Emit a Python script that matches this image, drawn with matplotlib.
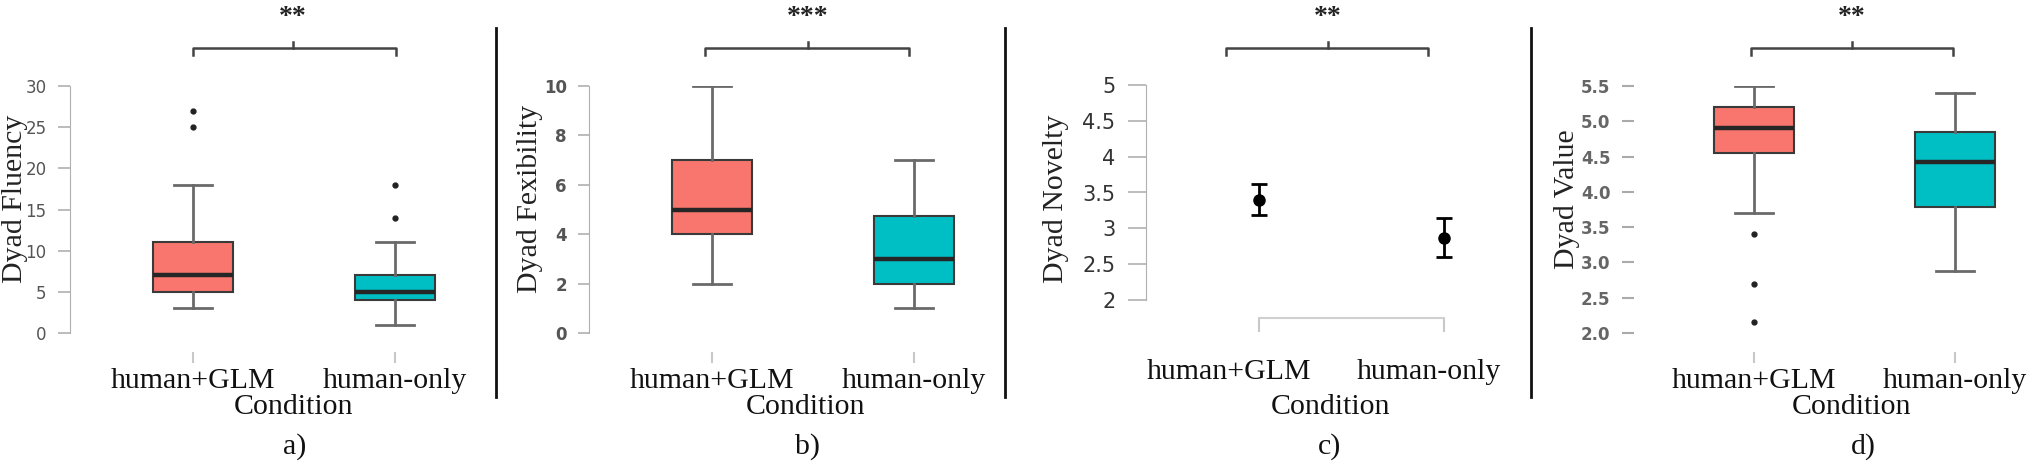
import matplotlib.pyplot as plt
from matplotlib.lines import Line2D

W, H, DPI = 2030, 469, 100

categories = ["human+GLM", "human-only"]

# box stats: whisker low, q1, median, q3, whisker high
fluency_glm = [3, 5, 7, 11, 18]
fluency_glm_out = [25, 27]
fluency_human = [1, 4, 5, 7, 11]
fluency_human_out = [14, 18]

flex_glm = [2, 4, 5, 7, 10]
flex_human = [1, 2, 3, 4.75, 7]

novelty_mean = [3.40, 2.87]
novelty_lo = [3.18, 2.60]
novelty_hi = [3.62, 3.15]

value_glm = [3.7, 4.55, 4.9, 5.2, 5.5]
value_glm_out = [3.4, 2.7, 2.15]
value_human = [2.88, 3.78, 4.43, 4.85, 5.4]
value_human_out = []

stars = ["**", "***", "**", "**"]
panel_tags = ["a)", "b)", "c)", "d)"]
ylabels = ["Dyad Fluency", "Dyad Fexibility", "Dyad Novelty", "Dyad Value"]

RED, TEAL = "#F8766D", "#00BFC4"
SERIF = "Liberation Serif"

fig = plt.figure(figsize=(W / DPI, H / DPI), dpi=DPI)


def make_axes(left, c1, c2, top, bottom, ylim):
    s = c2 - c1
    right = c2 + 75
    ax = fig.add_axes([left / W, 1 - bottom / H, (right - left) / W, (bottom - top) / H])
    ax.set_xlim(1 - (c1 - left) / s, 2 + (right - c2) / s)
    ax.set_ylim(*ylim)
    ax.patch.set_alpha(0)
    for sp in ["top", "right"]:
        ax.spines[sp].set_visible(False)
    return ax


def stats(vals, out):
    lo, q1, med, q3, hi = vals
    return dict(whislo=lo, q1=q1, med=med, q3=q3, whishi=hi, fliers=out)


def draw_boxes(ax, s1, s2):
    bp = ax.bxp([s1, s2], positions=[1, 2], widths=0.4, capwidths=0.19,
                patch_artist=True, showfliers=True,
                boxprops=dict(edgecolor="#3a3a3a", linewidth=1.5),
                medianprops=dict(color="#262626", linewidth=3.2),
                whiskerprops=dict(color="#6a6a6a", linewidth=2),
                capprops=dict(color="#6a6a6a", linewidth=2),
                flierprops=dict(marker="o", markersize=3.5, markerfacecolor="#222",
                                markeredgecolor="#222"))
    for patch, col in zip(bp["boxes"], [RED, TEAL]):
        patch.set_facecolor(col)


def style_x(ax, outward, length, pad, labels=True):
    ax.spines["bottom"].set_position(("outward", outward))
    ax.set_xticks([1, 2])
    if labels:
        ax.set_xticklabels(categories, fontfamily=SERIF, fontsize=21.5)
    else:
        ax.set_xticklabels(["", ""])
    ax.tick_params(axis="x", length=length, width=1.5, color="#c8c8c8", pad=pad,
                   labelcolor="#111")


# a) fluency
ax = make_axes(70, 193, 395, 86, 333, (0, 30))
draw_boxes(ax, stats(fluency_glm, fluency_glm_out), stats(fluency_human, fluency_human_out))
ax.set_yticks([0, 5, 10, 15, 20, 25, 30])
ax.spines["left"].set_bounds(0, 30)
ax.spines["left"].set_color("#b0b0b0")
ax.spines["bottom"].set_visible(False)
ax.tick_params(axis="y", length=9, width=1.2, color="#b0b0b0", pad=8,
               labelsize=12, labelcolor="#555")
style_x(ax, 14, 8, 3)

# b) flexibility
ax = make_axes(589, 712, 914, 86, 333, (0, 10))
draw_boxes(ax, stats(flex_glm, []), stats(flex_human, []))
ax.set_yticks([0, 2, 4, 6, 8, 10])
ax.spines["left"].set_bounds(0, 10)
ax.spines["left"].set_color("#b0b0b0")
ax.spines["bottom"].set_visible(False)
ax.tick_params(axis="y", length=8, width=1.2, color="#b0b0b0", pad=8,
               labelsize=12, labelcolor="#555")
for lab in ax.get_yticklabels():
    lab.set_fontweight("bold")
style_x(ax, 14, 8, 3)

# c) novelty
ax = make_axes(1146, 1259, 1444, 85, 300, (2, 5))
ax.errorbar([1, 2], novelty_mean,
            yerr=[[m - lo for m, lo in zip(novelty_mean, novelty_lo)],
                  [hi - m for m, hi in zip(novelty_mean, novelty_hi)]],
            fmt="o", color="black", markersize=8, elinewidth=2, capsize=6, capthick=2)
ax.set_yticks([2, 2.5, 3, 3.5, 4, 4.5, 5])
ax.set_yticklabels(["2", "2.5", "3", "3.5", "4", "4.5", "5"])
ax.spines["left"].set_bounds(2, 5)
ax.spines["left"].set_color("#b0b0b0")
ax.spines["bottom"].set_bounds(1, 2)
ax.spines["bottom"].set_color("#d0d0d0")
ax.spines["bottom"].set_linewidth(1.5)
ax.tick_params(axis="y", length=13, width=1.2, color="#b0b0b0", pad=9,
               labelsize=15, labelcolor="#333")
style_x(ax, 13, 10, 3, labels=False)

# d) value
ax = make_axes(1634, 1754, 1955, 86, 333, (2.0, 5.5))
draw_boxes(ax, stats(value_glm, value_glm_out), stats(value_human, value_human_out))
ax.set_yticks([2.0, 2.5, 3.0, 3.5, 4.0, 4.5, 5.0, 5.5])
ax.set_yticklabels([f"{v:.1f}" for v in [2.0, 2.5, 3.0, 3.5, 4.0, 4.5, 5.0, 5.5]])
ax.spines["left"].set_visible(False)
ax.spines["bottom"].set_visible(False)
ax.tick_params(axis="y", length=9, width=1.5, color="#aaaaaa", pad=8,
               labelsize=12, labelcolor="#666")
for lab in ax.get_yticklabels():
    lab.set_fontweight("bold")
style_x(ax, 14, 8, 3)

# overlay in pixel coordinates for brackets, separators and captions
ov = fig.add_axes([0, 0, 1, 1])
ov.set_xlim(0, W)
ov.set_ylim(H, 0)
ov.axis("off")
ov.patch.set_alpha(0)

for x in [496, 1005, 1531]:
    ov.add_line(Line2D([x, x], [28, 397], color="#111", linewidth=2))

brackets = [(193, 396, 293), (705, 909, 808), (1226, 1428, 1328), (1751, 1953, 1852)]
for (x0, x1, xc), st in zip(brackets, stars):
    ov.add_line(Line2D([x0, x0, x1, x1], [55, 48, 48, 55], color="#444", linewidth=1.8))
    ov.add_line(Line2D([xc, xc], [42, 48], color="#444", linewidth=1.8))
    ov.text(xc, 17, st, ha="center", va="center", fontsize=20, fontfamily=SERIF,
            fontweight="bold", color="#222")

for x, lab in zip([1229, 1429], categories):
    ov.text(x, 372, lab, ha="center", va="center", fontsize=21.5, fontfamily=SERIF,
            color="#111")

ylab_x = [15, 530, 1056, 1567]
cond_x = [294, 806, 1331, 1852]
tag_x = [295, 808, 1330, 1863]
for i in range(4):
    ov.text(ylab_x[i], 199, ylabels[i], rotation=90, ha="center", va="center",
            fontsize=21.5, fontfamily=SERIF, color="#222")
    ov.text(cond_x[i], 407, "Condition", ha="center", va="center",
            fontsize=21.5, fontfamily=SERIF, color="#111")
    ov.text(tag_x[i], 447, panel_tags[i], ha="center", va="center",
            fontsize=21.5, fontfamily=SERIF, color="#111")

fig.savefig("out.png", dpi=DPI, facecolor="white")
